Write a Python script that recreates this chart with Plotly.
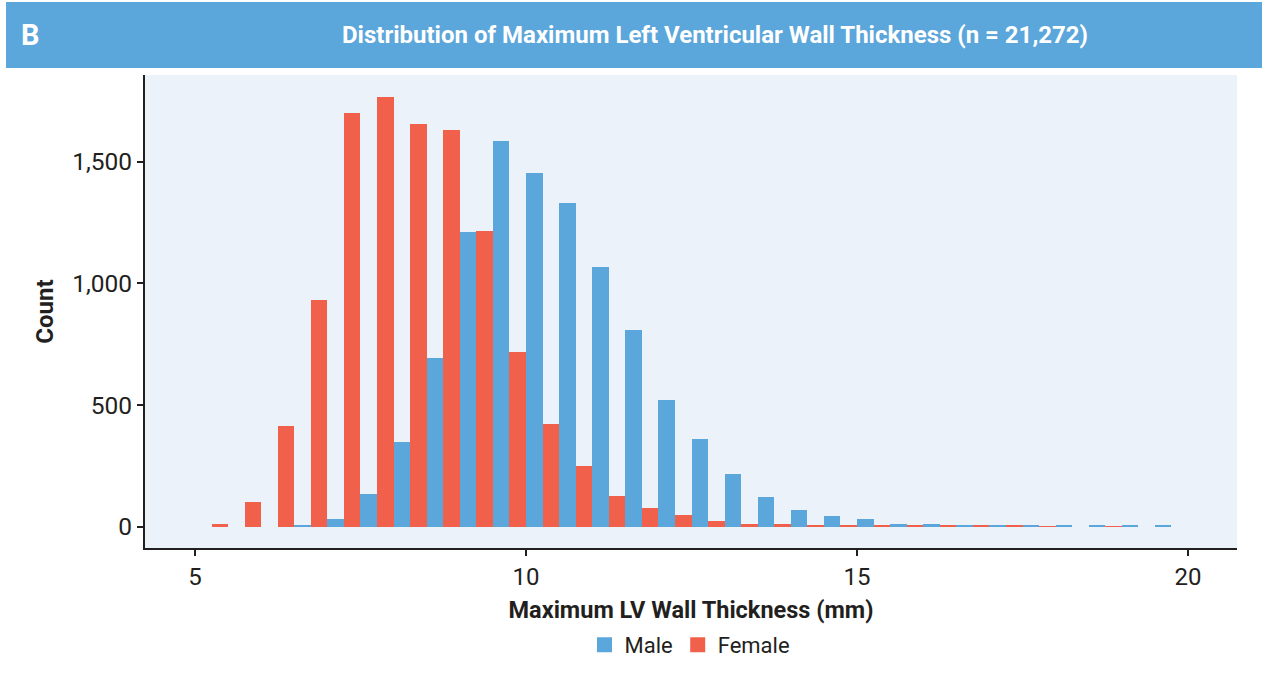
import plotly.graph_objects as go

# Bin centres (0.5 mm bins)
bin_centers = [5.25, 5.75, 6.25, 6.75, 7.25, 7.75, 8.25, 8.75, 9.25, 9.75,
               10.25, 10.75, 11.25, 11.75, 12.25, 12.75, 13.25, 13.75, 14.25, 14.75,
               15.25, 15.75, 16.25, 16.75, 17.25, 17.75, 18.25, 18.75, 19.25, 19.75]

male_counts = [0, 0, 0, 5, 33, 136, 349, 693, 1211, 1585,
               1453, 1330, 1067, 808, 520, 360, 216, 124, 70, 42,
               30, 13, 13, 9, 9, 5, 5, 3, 3, 3]

female_counts = [10, 100, 414, 931, 1700, 1766, 1655, 1630, 1215, 718,
                 422, 250, 125, 75, 50, 25, 12, 12, 8, 8,
                 4, 4, 4, 4, 4, 2, 0, 2, 0, 0]

x_ticks = [5, 10, 15, 20]
y_ticks = [0, 500, 1000, 1500]
y_tick_labels = ["0", "500", "1,000", "1,500"]

BLUE = "#5BA6DA"
RED = "#F0604A"
DARK = "#231F20"
FONT = "Roboto"

fig = go.Figure()
fig.add_trace(go.Bar(x=bin_centers, y=male_counts, name="Male", showlegend=False,
                     marker=dict(color=BLUE, line=dict(width=0))))
fig.add_trace(go.Bar(x=bin_centers, y=female_counts, name="Female", showlegend=False,
                     marker=dict(color=RED, line=dict(width=0))))
# legend entries with larger square swatches
fig.add_trace(go.Scatter(x=[None], y=[None], mode="markers", name="Male",
                         marker=dict(symbol="square", size=15, color=BLUE)))
fig.add_trace(go.Scatter(x=[None], y=[None], mode="markers", name="Female",
                         marker=dict(symbol="square", size=15, color=RED)))

W, H = 1267, 673
L, R, T, B = 145, 30, 75, 125
pw, ph = W - L - R, H - T - B

def px_x(p):
    return (p - L) / pw

def px_y(p):
    return (H - B - p) / ph

fig.update_layout(
    width=W, height=H,
    margin=dict(l=L, r=R, t=T, b=B, pad=0, autoexpand=False),
    paper_bgcolor="white",
    plot_bgcolor="#EBF2FA",
    barmode="group", bargap=0, bargroupgap=0,
    font=dict(family=FONT, size=24, color=DARK),
    showlegend=True,
    legend=dict(orientation="h", xref="container", yref="container",
                x=690 / W, y=1 - 645 / H, xanchor="center", yanchor="middle",
                font=dict(family=FONT, size=22, color=DARK),
                itemwidth=30, itemsizing="trace", tracegroupgap=0,
                bgcolor="rgba(0,0,0,0)"),
    xaxis=dict(range=[4.245, 20.74], tickvals=x_ticks, ticks="outside",
               ticklen=6, tickwidth=2, tickcolor=DARK, showline=True,
               linecolor=DARK, linewidth=2, showgrid=False, zeroline=False,
               automargin=False,
               tickfont=dict(family=FONT, size=24, color=DARK),
               title=dict(text="<b>Maximum LV Wall Thickness (mm)</b>",
                          font=dict(family=FONT, size=23.5, color=DARK), standoff=13)),
    yaxis=dict(range=[-87.5, 1856], tickvals=y_ticks, ticktext=y_tick_labels,
               ticks="outside", ticklen=6, tickwidth=2, tickcolor=DARK,
               showline=True, linecolor=DARK, linewidth=2, showgrid=False,
               zeroline=False, automargin=False,
               tickfont=dict(family=FONT, size=24.5, color=DARK),
               title=dict(text="<b>Count</b>",
                          font=dict(family=FONT, size=24, color=DARK), standoff=12)),
    shapes=[dict(type="rect", xref="paper", yref="paper",
                 x0=px_x(6), x1=px_x(1262), y0=px_y(68), y1=px_y(2),
                 fillcolor=BLUE, line=dict(width=0), layer="below")],
    annotations=[
        dict(text="<b>B</b>", xref="paper", yref="paper", x=px_x(19), y=px_y(35),
             xanchor="left", yanchor="middle", showarrow=False,
             font=dict(family=FONT, size=29, color="white")),
        dict(text="<b>Distribution of Maximum Left Ventricular Wall Thickness (n = 21,272)</b>",
             xref="paper", yref="paper", x=px_x(715), y=px_y(35),
             xanchor="center", yanchor="middle", showarrow=False,
             font=dict(family=FONT, size=24, color="white")),
    ],
)

fig.write_html("out.html", config={"displayModeBar": False},
               post_script="document.body.style.margin='0';document.body.style.overflow='hidden';")
